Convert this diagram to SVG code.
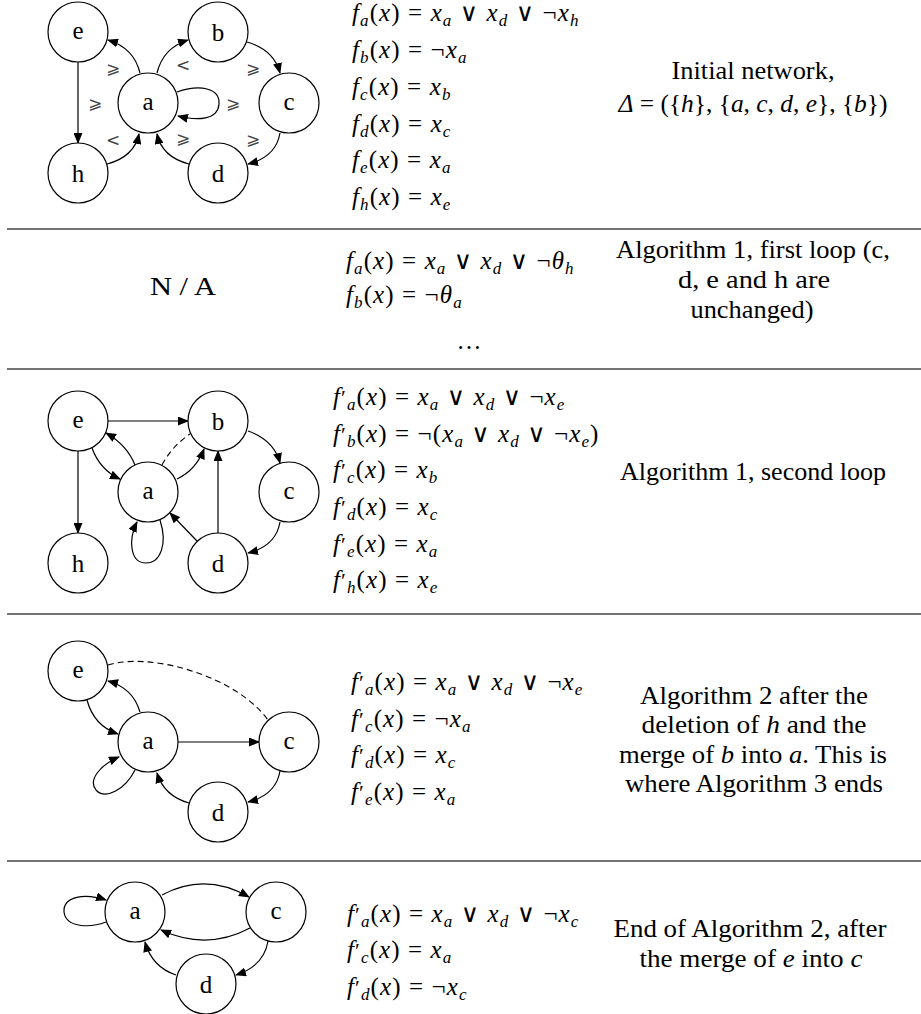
<svg xmlns="http://www.w3.org/2000/svg" width="921" height="1014" viewBox="0 0 921 1014">
<defs>
<marker id="arr" markerUnits="userSpaceOnUse" markerWidth="11" markerHeight="9" refX="10" refY="4.5" orient="auto"><path d="M0,0 L11,4.5 L0,9 Z" fill="#000"/></marker>
</defs>
<style>
.n circle{fill:#fff;stroke:#000;stroke-width:1.2}
.n text{font-family:"Liberation Serif","DejaVu Serif",serif;font-size:25px;text-anchor:middle;fill:#000}
.e{fill:none;stroke:#000;stroke-width:1.2;marker-end:url(#arr)}
.d{fill:none;stroke:#000;stroke-width:1.1;stroke-dasharray:6 4}
.lbl{font-family:"DejaVu Sans",sans-serif;font-size:17px;fill:#444;text-anchor:middle}
.sep{stroke:#444;stroke-width:1.4}
.t{font-family:"Liberation Serif","DejaVu Serif",serif;font-size:25px;fill:#000}
.f{letter-spacing:1.1px}
.i{font-style:italic}
.b{font-style:italic;font-size:17px}
.p{font-size:22px}
.c{text-anchor:middle}
</style>
<rect width="921" height="1014" fill="#fff"/>

<g id="separators">
<line class="sep" x1="7" y1="229" x2="921" y2="229"/>
<line class="sep" x1="7" y1="369" x2="921" y2="369"/>
<line class="sep" x1="7" y1="614" x2="921" y2="614"/>
<line class="sep" x1="7" y1="861" x2="921" y2="861"/>
</g>

<g id="connectors">
<path class="e" d="M140,73 Q134,48 108,40"/>
<path class="e" d="M157,73 Q163,48 188,40"/>
<path class="e" d="M247,42 Q274,50 280,73"/>
<path class="e" d="M280,133 Q276,157 248,164"/>
<path class="e" d="M189,164 Q162,157 157,134"/>
<path class="e" d="M107,164 Q134,157 139,134"/>
<path class="e" d="M78,62 L78,143"/>
<path class="e" d="M177,92 C200,84 220,88 219,104 C218,120 198,121 178,116"/>
<path class="e" d="M108,421 L188,421"/>
<path class="e" d="M135,465 Q127,445 106,433"/>
<path class="e" d="M92,448 Q100,470 120,479"/>
<path class="e" d="M177,479 Q196,470 204,449"/>
<path class="d" d="M162,465 Q172,446 190,434"/>
<path class="e" d="M248,431 Q274,440 280,463"/>
<path class="e" d="M280,522 Q276,546 248,553"/>
<path class="e" d="M218,533 L218,451"/>
<path class="e" d="M197,541 L170,513"/>
<path class="e" d="M160,520 C168,545 160,563 146,563 C130,563 128,540 137,522"/>
<path class="e" d="M78,451 L78,533"/>
<path class="d" d="M108,665 C150,652 235,675 268,720"/>
<path class="e" d="M140,712 Q133,688 108,681"/>
<path class="e" d="M87,700 Q94,726 118,734"/>
<path class="e" d="M178,742 L259,742"/>
<path class="e" d="M280,771 Q276,795 248,802"/>
<path class="e" d="M189,803 Q164,796 157,773"/>
<path class="e" d="M135,770 C125,790 105,800 96,790 C88,780 100,765 119,757"/>
<path class="e" d="M162,895 Q205,872 249,897"/>
<path class="e" d="M250,928 Q207,951 161,930"/>
<path class="e" d="M268,941 Q264,966 236,975"/>
<path class="e" d="M176,975 Q152,967 145,942"/>
<path class="e" d="M106,922 C90,928 66,928 64,912 C63,896 85,893 106,900"/>
</g>

<g id="edge-labels">
<text class="lbl" x="113" y="74">⩾</text>
<text class="lbl" x="183" y="71">&lt;</text>
<text class="lbl" x="253" y="74">⩾</text>
<text class="lbl" x="95" y="109">⩾</text>
<text class="lbl" x="233" y="109">⩾</text>
<text class="lbl" x="113" y="146">&lt;</text>
<text class="lbl" x="183" y="144">⩾</text>
<text class="lbl" x="253" y="145">⩾</text>
</g>

<g id="s1-e" class="n"><circle cx="78" cy="32" r="30"/><text x="78" y="39">e</text></g>
<g id="s1-b" class="n"><circle cx="218" cy="32" r="30"/><text x="218" y="41">b</text></g>
<g id="s1-a" class="n"><circle cx="148" cy="103" r="30"/><text x="148" y="110">a</text></g>
<g id="s1-c" class="n"><circle cx="289" cy="103" r="30"/><text x="289" y="110">c</text></g>
<g id="s1-h" class="n"><circle cx="78" cy="173" r="30"/><text x="78" y="182">h</text></g>
<g id="s1-d" class="n"><circle cx="218" cy="173" r="30"/><text x="218" y="182">d</text></g>

<g id="s3-e" class="n"><circle cx="78" cy="421" r="30"/><text x="78" y="428">e</text></g>
<g id="s3-b" class="n"><circle cx="218" cy="421" r="30"/><text x="218" y="430">b</text></g>
<g id="s3-a" class="n"><circle cx="148" cy="492" r="30"/><text x="148" y="499">a</text></g>
<g id="s3-c" class="n"><circle cx="289" cy="492" r="30"/><text x="289" y="499">c</text></g>
<g id="s3-h" class="n"><circle cx="78" cy="563" r="30"/><text x="78" y="572">h</text></g>
<g id="s3-d" class="n"><circle cx="218" cy="563" r="30"/><text x="218" y="572">d</text></g>

<g id="s4-e" class="n"><circle cx="78" cy="671" r="30"/><text x="78" y="678">e</text></g>
<g id="s4-a" class="n"><circle cx="148" cy="742" r="30"/><text x="148" y="749">a</text></g>
<g id="s4-c" class="n"><circle cx="289" cy="742" r="30"/><text x="289" y="749">c</text></g>
<g id="s4-d" class="n"><circle cx="218" cy="812" r="30"/><text x="218" y="821">d</text></g>

<g id="s5-a" class="n"><circle cx="135" cy="912" r="30"/><text x="135" y="919">a</text></g>
<g id="s5-c" class="n"><circle cx="276" cy="912" r="30"/><text x="276" y="919">c</text></g>
<g id="s5-d" class="n"><circle cx="206" cy="984" r="30"/><text x="206" y="993">d</text></g>

<g id="formulas">
<text class="t f" x="352" y="21"><tspan class="i">f</tspan><tspan class="b" dy="5">a</tspan><tspan dy="-5">(</tspan><tspan class="i">x</tspan><tspan>) = </tspan><tspan class="i">x</tspan><tspan class="b" dy="5">a</tspan><tspan dy="-5"> ∨ </tspan><tspan class="i">x</tspan><tspan class="b" dy="5">d</tspan><tspan dy="-5"> ∨ ¬</tspan><tspan class="i">x</tspan><tspan class="b" dy="5">h</tspan></text>
<text class="t f" x="352" y="58"><tspan class="i">f</tspan><tspan class="b" dy="5">b</tspan><tspan dy="-5">(</tspan><tspan class="i">x</tspan><tspan>) = ¬</tspan><tspan class="i">x</tspan><tspan class="b" dy="5">a</tspan></text>
<text class="t f" x="352" y="95"><tspan class="i">f</tspan><tspan class="b" dy="5">c</tspan><tspan dy="-5">(</tspan><tspan class="i">x</tspan><tspan>) = </tspan><tspan class="i">x</tspan><tspan class="b" dy="5">b</tspan></text>
<text class="t f" x="352" y="132"><tspan class="i">f</tspan><tspan class="b" dy="5">d</tspan><tspan dy="-5">(</tspan><tspan class="i">x</tspan><tspan>) = </tspan><tspan class="i">x</tspan><tspan class="b" dy="5">c</tspan></text>
<text class="t f" x="352" y="168"><tspan class="i">f</tspan><tspan class="b" dy="5">e</tspan><tspan dy="-5">(</tspan><tspan class="i">x</tspan><tspan>) = </tspan><tspan class="i">x</tspan><tspan class="b" dy="5">a</tspan></text>
<text class="t f" x="352" y="205"><tspan class="i">f</tspan><tspan class="b" dy="5">h</tspan><tspan dy="-5">(</tspan><tspan class="i">x</tspan><tspan>) = </tspan><tspan class="i">x</tspan><tspan class="b" dy="5">e</tspan></text>
<text class="t f" x="346" y="269"><tspan class="i">f</tspan><tspan class="b" dy="5">a</tspan><tspan dy="-5">(</tspan><tspan class="i">x</tspan><tspan>) = </tspan><tspan class="i">x</tspan><tspan class="b" dy="5">a</tspan><tspan dy="-5"> ∨ </tspan><tspan class="i">x</tspan><tspan class="b" dy="5">d</tspan><tspan dy="-5"> ∨ ¬</tspan><tspan class="i">θ</tspan><tspan class="b" dy="5">h</tspan></text>
<text class="t f" x="346" y="303"><tspan class="i">f</tspan><tspan class="b" dy="5">b</tspan><tspan dy="-5">(</tspan><tspan class="i">x</tspan><tspan>) = ¬</tspan><tspan class="i">θ</tspan><tspan class="b" dy="5">a</tspan></text>
<text class="t c" x="469" y="349">…</text>
<text class="t f" x="333" y="405"><tspan class="i">f</tspan><tspan class="p">′</tspan><tspan class="b" dy="5">a</tspan><tspan dy="-5">(</tspan><tspan class="i">x</tspan><tspan>) = </tspan><tspan class="i">x</tspan><tspan class="b" dy="5">a</tspan><tspan dy="-5"> ∨ </tspan><tspan class="i">x</tspan><tspan class="b" dy="5">d</tspan><tspan dy="-5"> ∨ ¬</tspan><tspan class="i">x</tspan><tspan class="b" dy="5">e</tspan></text>
<text class="t f" x="333" y="442"><tspan class="i">f</tspan><tspan class="p">′</tspan><tspan class="b" dy="5">b</tspan><tspan dy="-5">(</tspan><tspan class="i">x</tspan><tspan>) = ¬(</tspan><tspan class="i">x</tspan><tspan class="b" dy="5">a</tspan><tspan dy="-5"> ∨ </tspan><tspan class="i">x</tspan><tspan class="b" dy="5">d</tspan><tspan dy="-5"> ∨ ¬</tspan><tspan class="i">x</tspan><tspan class="b" dy="5">e</tspan><tspan dy="-5">)</tspan></text>
<text class="t f" x="333" y="478"><tspan class="i">f</tspan><tspan class="p">′</tspan><tspan class="b" dy="5">c</tspan><tspan dy="-5">(</tspan><tspan class="i">x</tspan><tspan>) = </tspan><tspan class="i">x</tspan><tspan class="b" dy="5">b</tspan></text>
<text class="t f" x="333" y="515"><tspan class="i">f</tspan><tspan class="p">′</tspan><tspan class="b" dy="5">d</tspan><tspan dy="-5">(</tspan><tspan class="i">x</tspan><tspan>) = </tspan><tspan class="i">x</tspan><tspan class="b" dy="5">c</tspan></text>
<text class="t f" x="333" y="552"><tspan class="i">f</tspan><tspan class="p">′</tspan><tspan class="b" dy="5">e</tspan><tspan dy="-5">(</tspan><tspan class="i">x</tspan><tspan>) = </tspan><tspan class="i">x</tspan><tspan class="b" dy="5">a</tspan></text>
<text class="t f" x="333" y="588"><tspan class="i">f</tspan><tspan class="p">′</tspan><tspan class="b" dy="5">h</tspan><tspan dy="-5">(</tspan><tspan class="i">x</tspan><tspan>) = </tspan><tspan class="i">x</tspan><tspan class="b" dy="5">e</tspan></text>
<text class="t f" x="351" y="690"><tspan class="i">f</tspan><tspan class="p">′</tspan><tspan class="b" dy="5">a</tspan><tspan dy="-5">(</tspan><tspan class="i">x</tspan><tspan>) = </tspan><tspan class="i">x</tspan><tspan class="b" dy="5">a</tspan><tspan dy="-5"> ∨ </tspan><tspan class="i">x</tspan><tspan class="b" dy="5">d</tspan><tspan dy="-5"> ∨ ¬</tspan><tspan class="i">x</tspan><tspan class="b" dy="5">e</tspan></text>
<text class="t f" x="351" y="727"><tspan class="i">f</tspan><tspan class="p">′</tspan><tspan class="b" dy="5">c</tspan><tspan dy="-5">(</tspan><tspan class="i">x</tspan><tspan>) = ¬</tspan><tspan class="i">x</tspan><tspan class="b" dy="5">a</tspan></text>
<text class="t f" x="351" y="763"><tspan class="i">f</tspan><tspan class="p">′</tspan><tspan class="b" dy="5">d</tspan><tspan dy="-5">(</tspan><tspan class="i">x</tspan><tspan>) = </tspan><tspan class="i">x</tspan><tspan class="b" dy="5">c</tspan></text>
<text class="t f" x="351" y="800"><tspan class="i">f</tspan><tspan class="p">′</tspan><tspan class="b" dy="5">e</tspan><tspan dy="-5">(</tspan><tspan class="i">x</tspan><tspan>) = </tspan><tspan class="i">x</tspan><tspan class="b" dy="5">a</tspan></text>
<text class="t f" x="347" y="922"><tspan class="i">f</tspan><tspan class="p">′</tspan><tspan class="b" dy="5">a</tspan><tspan dy="-5">(</tspan><tspan class="i">x</tspan><tspan>) = </tspan><tspan class="i">x</tspan><tspan class="b" dy="5">a</tspan><tspan dy="-5"> ∨ </tspan><tspan class="i">x</tspan><tspan class="b" dy="5">d</tspan><tspan dy="-5"> ∨ ¬</tspan><tspan class="i">x</tspan><tspan class="b" dy="5">c</tspan></text>
<text class="t f" x="347" y="958"><tspan class="i">f</tspan><tspan class="p">′</tspan><tspan class="b" dy="5">c</tspan><tspan dy="-5">(</tspan><tspan class="i">x</tspan><tspan>) = </tspan><tspan class="i">x</tspan><tspan class="b" dy="5">a</tspan></text>
<text class="t f" x="347" y="995"><tspan class="i">f</tspan><tspan class="p">′</tspan><tspan class="b" dy="5">d</tspan><tspan dy="-5">(</tspan><tspan class="i">x</tspan><tspan>) = ¬</tspan><tspan class="i">x</tspan><tspan class="b" dy="5">c</tspan></text>
</g>

<g id="descriptions">
<text class="t c" x="753" y="79" textLength="163" lengthAdjust="spacingAndGlyphs">Initial network,</text>
<text class="t c" x="753" y="112" textLength="269" lengthAdjust="spacingAndGlyphs"><tspan class="i">Δ</tspan> = ({<tspan class="i">h</tspan>}, {<tspan class="i">a</tspan>, <tspan class="i">c</tspan>, <tspan class="i">d</tspan>, <tspan class="i">e</tspan>}, {<tspan class="i">b</tspan>})</text>
<text class="t c" x="183" y="295" textLength="66" lengthAdjust="spacingAndGlyphs">N / A</text>
<text class="t c" x="753" y="258" textLength="274" lengthAdjust="spacingAndGlyphs">Algorithm 1, first loop (c,</text>
<text class="t c" x="754" y="288" textLength="152" lengthAdjust="spacingAndGlyphs">d, e and h are</text>
<text class="t c" x="752" y="318" textLength="123" lengthAdjust="spacingAndGlyphs">unchanged)</text>
<text class="t c" x="753" y="480" textLength="266" lengthAdjust="spacingAndGlyphs">Algorithm 1, second loop</text>
<text class="t c" x="754" y="704" textLength="228" lengthAdjust="spacingAndGlyphs">Algorithm 2 after the</text>
<text class="t c" x="754" y="733" textLength="225" lengthAdjust="spacingAndGlyphs">deletion of <tspan class="i">h</tspan> and the</text>
<text class="t c" x="753" y="763" textLength="268" lengthAdjust="spacingAndGlyphs">merge of <tspan class="i">b</tspan> into <tspan class="i">a</tspan>. This is</text>
<text class="t c" x="754" y="792" textLength="258" lengthAdjust="spacingAndGlyphs">where Algorithm 3 ends</text>
<text class="t c" x="750" y="937" textLength="273" lengthAdjust="spacingAndGlyphs">End of Algorithm 2, after</text>
<text class="t c" x="751" y="967" textLength="223" lengthAdjust="spacingAndGlyphs">the merge of <tspan class="i">e</tspan> into <tspan class="i">c</tspan></text>
</g>
</svg>
